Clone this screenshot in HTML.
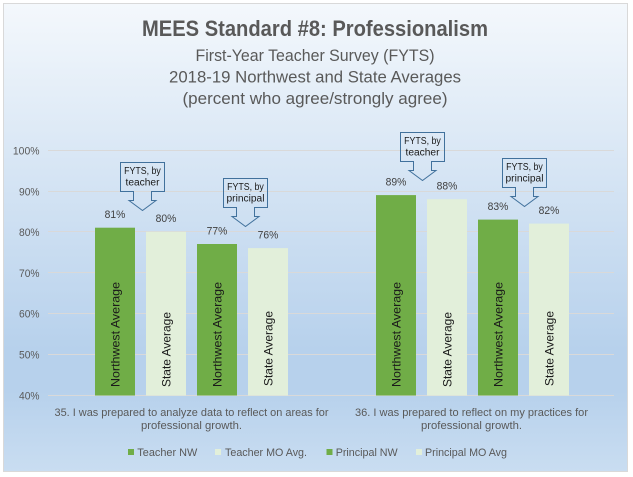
<!DOCTYPE html>
<html><head><meta charset="utf-8"><style>
html,body{margin:0;padding:0;background:#fff;}
svg{display:block;}
text{font-family:"Liberation Sans",sans-serif;}
</style></head><body>
<svg width="633" height="477" viewBox="0 0 633 477" xmlns="http://www.w3.org/2000/svg">
<defs>
<linearGradient id="bg" x1="0" y1="3" x2="0" y2="471" gradientUnits="userSpaceOnUse">
<stop offset="0" stop-color="#F4F8FC"/>
<stop offset="0.74" stop-color="#B7D1EC"/>
<stop offset="0.83" stop-color="#B7D1EC"/>
<stop offset="1" stop-color="#C9DDF1"/>
</linearGradient>
</defs>
<rect x="0" y="0" width="633" height="477" fill="#fff"/>
<rect x="3.5" y="3.5" width="624" height="468" fill="url(#bg)" stroke="#D9D9D9" stroke-width="1"/>

<!-- titles -->
<text x="315" y="36" text-anchor="middle" font-size="22" font-weight="bold" fill="#595959" textLength="346" lengthAdjust="spacingAndGlyphs">MEES Standard #8: Professionalism</text>
<g font-size="16.5" fill="#595959" text-anchor="middle">
<text x="315" y="61" textLength="239" lengthAdjust="spacingAndGlyphs">First-Year Teacher Survey (FYTS)</text>
<text x="315" y="82.5" textLength="292" lengthAdjust="spacingAndGlyphs">2018-19 Northwest and State Averages</text>
<text x="315" y="104" textLength="265" lengthAdjust="spacingAndGlyphs">(percent who agree/strongly agree)</text>
</g>

<!-- gridlines -->
<g stroke="#D9D9D9" stroke-width="1">
<line x1="48" y1="150.5" x2="614" y2="150.5"/>
<line x1="48" y1="191.5" x2="614" y2="191.5"/>
<line x1="48" y1="231.5" x2="614" y2="231.5"/>
<line x1="48" y1="272.5" x2="614" y2="272.5"/>
<line x1="48" y1="313.5" x2="614" y2="313.5"/>
<line x1="48" y1="354.5" x2="614" y2="354.5"/>
<line x1="48" y1="395.5" x2="614" y2="395.5"/>
</g>

<!-- y axis labels -->
<g font-size="10.8" fill="#595959" text-anchor="end">
<text x="39.5" y="154.5" textLength="26.6" lengthAdjust="spacingAndGlyphs">100%</text>
<text x="39.5" y="195.3" textLength="20.5" lengthAdjust="spacingAndGlyphs">90%</text>
<text x="39.5" y="236" textLength="20.5" lengthAdjust="spacingAndGlyphs">80%</text>
<text x="39.5" y="276.9" textLength="20.5" lengthAdjust="spacingAndGlyphs">70%</text>
<text x="39.5" y="317.7" textLength="20.5" lengthAdjust="spacingAndGlyphs">60%</text>
<text x="39.5" y="358.5" textLength="20.5" lengthAdjust="spacingAndGlyphs">50%</text>
<text x="39.5" y="399.3" textLength="20.5" lengthAdjust="spacingAndGlyphs">40%</text>
</g>

<!-- bars -->
<rect x="95" y="227.7" width="40" height="167.8" fill="#70AD47"/>
<rect x="146" y="231.8" width="40" height="163.7" fill="#E2EFDA"/>
<rect x="197" y="244" width="40" height="151.5" fill="#70AD47"/>
<rect x="248" y="248.1" width="40" height="147.4" fill="#E2EFDA"/>
<rect x="376" y="195.1" width="40" height="200.4" fill="#70AD47"/>
<rect x="427" y="199.2" width="40" height="196.3" fill="#E2EFDA"/>
<rect x="478" y="219.6" width="40" height="175.9" fill="#70AD47"/>
<rect x="529" y="223.6" width="40" height="171.9" fill="#E2EFDA"/>

<!-- data labels -->
<g font-size="10.8" fill="#404040" text-anchor="middle">
<text x="115" y="218.1" textLength="20.7" lengthAdjust="spacingAndGlyphs">81%</text>
<text x="166" y="222.2" textLength="20.7" lengthAdjust="spacingAndGlyphs">80%</text>
<text x="217" y="234.4" textLength="20.7" lengthAdjust="spacingAndGlyphs">77%</text>
<text x="268" y="238.5" textLength="20.7" lengthAdjust="spacingAndGlyphs">76%</text>
<text x="396" y="185.5" textLength="20.7" lengthAdjust="spacingAndGlyphs">89%</text>
<text x="447" y="189.6" textLength="20.7" lengthAdjust="spacingAndGlyphs">88%</text>
<text x="498" y="210" textLength="20.7" lengthAdjust="spacingAndGlyphs">83%</text>
<text x="549" y="214" textLength="20.7" lengthAdjust="spacingAndGlyphs">82%</text>
</g>

<!-- vertical text in bars -->
<g font-size="12" fill="#1a1a1a">
<text transform="translate(119.5,387) rotate(-90)" textLength="105" lengthAdjust="spacingAndGlyphs">Northwest Average</text>
<text transform="translate(170.5,387) rotate(-90)" textLength="75" lengthAdjust="spacingAndGlyphs">State Average</text>
<text transform="translate(221.5,387) rotate(-90)" textLength="105" lengthAdjust="spacingAndGlyphs">Northwest Average</text>
<text transform="translate(272.5,386) rotate(-90)" textLength="75" lengthAdjust="spacingAndGlyphs">State Average</text>
<text transform="translate(400.5,387) rotate(-90)" textLength="105" lengthAdjust="spacingAndGlyphs">Northwest Average</text>
<text transform="translate(451.5,387) rotate(-90)" textLength="75" lengthAdjust="spacingAndGlyphs">State Average</text>
<text transform="translate(502.5,387) rotate(-90)" textLength="105" lengthAdjust="spacingAndGlyphs">Northwest Average</text>
<text transform="translate(553.5,386) rotate(-90)" textLength="75" lengthAdjust="spacingAndGlyphs">State Average</text>
</g>

<!-- callouts -->
<g fill="none" stroke="#41719C" stroke-width="1">
<path d="M120.5,162.5 H164.5 V191.5 H151.5 V200.5 H156 L142.5,210.5 L129,200.5 H133.5 V191.5 H120.5 Z"/>
<path d="M223.5,178.5 H267.5 V207.5 H254.5 V216.5 H259 L245.5,226.5 L232,216.5 H236.5 V207.5 H223.5 Z"/>
<path d="M400.5,132.5 H444.5 V161.5 H431.5 V170.5 H436 L422.5,180.5 L409,170.5 H413.5 V161.5 H400.5 Z"/>
<path d="M502.5,158.5 H546.5 V187.5 H533.5 V196.5 H538 L524.5,206.5 L511,196.5 H515.5 V187.5 H502.5 Z"/>
</g>
<g font-size="10" fill="#1a1a1a" text-anchor="middle">
<text x="142.5" y="173.8" textLength="36.7" lengthAdjust="spacingAndGlyphs">FYTS, by</text>
<text x="142.5" y="185.5" textLength="34" lengthAdjust="spacingAndGlyphs">teacher</text>
<text x="245.5" y="189.8" textLength="36.7" lengthAdjust="spacingAndGlyphs">FYTS, by</text>
<text x="245.5" y="201.5" textLength="38" lengthAdjust="spacingAndGlyphs">principal</text>
<text x="422.5" y="143.8" textLength="36.7" lengthAdjust="spacingAndGlyphs">FYTS, by</text>
<text x="422.5" y="155.5" textLength="34" lengthAdjust="spacingAndGlyphs">teacher</text>
<text x="524.5" y="169.8" textLength="36.7" lengthAdjust="spacingAndGlyphs">FYTS, by</text>
<text x="524.5" y="181.5" textLength="38" lengthAdjust="spacingAndGlyphs">principal</text>
</g>

<!-- category labels -->
<g font-size="10.8" fill="#595959" text-anchor="middle">
<text x="191.5" y="416" textLength="274" lengthAdjust="spacingAndGlyphs">35. I was prepared to analyze data to reflect on areas for</text>
<text x="191.5" y="429" textLength="101" lengthAdjust="spacingAndGlyphs">professional growth.</text>
<text x="471.5" y="416" textLength="233" lengthAdjust="spacingAndGlyphs">36. I was prepared to reflect on my practices for</text>
<text x="471.5" y="429" textLength="101" lengthAdjust="spacingAndGlyphs">professional growth.</text>
</g>

<!-- legend -->
<rect x="128" y="449" width="6" height="6" fill="#70AD47"/>
<rect x="215" y="449" width="6" height="6" fill="#E2EFDA"/>
<rect x="326.5" y="449" width="6" height="6" fill="#70AD47"/>
<rect x="416" y="449" width="6" height="6" fill="#E2EFDA"/>
<g font-size="10.8" fill="#595959">
<text x="137.3" y="456" textLength="60" lengthAdjust="spacingAndGlyphs">Teacher NW</text>
<text x="225" y="456" textLength="82" lengthAdjust="spacingAndGlyphs">Teacher MO Avg.</text>
<text x="335.7" y="456" textLength="62" lengthAdjust="spacingAndGlyphs">Principal NW</text>
<text x="425" y="456" textLength="82" lengthAdjust="spacingAndGlyphs">Principal MO Avg</text>
</g>
</svg>
</body></html>
